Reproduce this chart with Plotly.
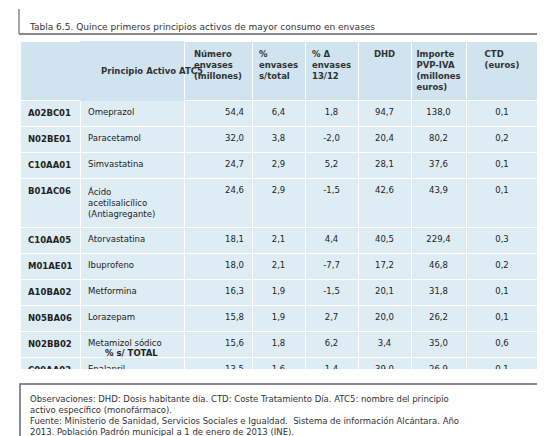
import plotly.graph_objects as go

codes = ["A02BC01","N02BE01","C10AA01","B01AC06","C10AA05","M01AE01","A10BA02","N05BA06",
         "N02BB02","C09AA02","N02AX52","N05BA12","C03CA01","N05CD06","J01CR02"]
names = ["Omeprazol","Paracetamol","Simvastatina","Ácido<br>acetilsalicílico<br>(Antiagregante)",
         "Atorvastatina","Ibuprofeno","Metformina","Lorazepam","Metamizol sódico","Enalapril",
         "Tramadol,<br>combinaciones","Alprazolam","Furosemida","Lormetazepam",
         "Amoxicilina e<br>inhibidores de la<br>beta-lactamasa"]
envases = ["54,4","32,0","24,7","24,6","18,1","18,0","16,3","15,8","15,6","13,5","12,0","11,6","9,0","8,9","8,5"]
pct_total = ["6,4","3,8","2,9","2,9","2,1","2,1","1,9","1,9","1,8","1,6","1,4","1,4","1,1","1,1","1,0"]
pct_var = ["1,8","-2,0","5,2","-1,5","4,4","-7,7","-1,5","2,7","6,2","1,4","11,3","2,4","4,0","5,2","-6,1"]
dhd = ["94,7","20,4","28,1","42,6","40,5","17,2","20,1","20,0","3,4","39,0","3,5","15,0","15,4","18,9","7,9"]
importe = ["138,0","80,2","37,6","43,9","229,4","46,8","31,8","26,2","35,0","26,9","44,8","32,1","20,0","19,7","59,4"]
ctd = ["0,1","0,2","0,1","0,1","0,3","0,2","0,1","0,1","0,6","0,1","0,8","0,1","0,1","0,1","0,4"]
total_pct = "33,4"

headers = ["", "", "Número<br>envases<br>(millones)", "%<br>envases<br>s/total", "% Δ<br>envases<br>13/12",
           "DHD", "Importe<br>PVP-IVA<br>(millones<br>euros)", "CTD<br>(euros)"]

def col(v, extra=""):
    return list(v) + [extra]

cols = [["<b>%s</b>" % c for c in codes] + [""], col(names), col(envases), col(pct_total, "<b>%s</b>" % total_pct),
        col(pct_var), col(dhd), col(importe), col(ctd)]

W, H = 545, 436
x0, x1 = 12/W, 530/W
widths = [60, 104, 68, 53, 53, 53, 55, 72]
fill = "#deedf4"
hfill = "#cfe4ee"
FONT = "DejaVu Sans"

fig = go.Figure(go.Table(
    domain=dict(x=[x0, x1], y=[0.17, 1-33/H]),
    columnwidth=widths,
    header=dict(values=["<b>%s</b>" % h if h else "" for h in headers],
                fill_color=hfill, line=dict(color=["white", hfill] + ["white"]*6, width=1),
                align=["center"]*8, font=dict(family=FONT, size=8.5, color="#333"), height=3),
    cells=dict(values=cols, fill_color=fill, line=dict(color="white", width=1),
               align=["left", "left", "right", "center", "center", "center", "center", "center"],
               font=dict(family=FONT, size=8.5, color="#222"), height=3),
))

fig.add_annotation(x=(12+170)/2/W, y=1-56/H, xref="paper", yref="paper", text="<b>Principio Activo ATC5</b>",
                   showarrow=False, font=dict(family=FONT, size=8.5, color="#333"))
fig.add_annotation(x=95/W, y=1-352/H, xref="paper", yref="paper", text="<b>% s/ TOTAL</b>",
                   showarrow=False, font=dict(family=FONT, size=8.5, color="#222"))

fig.add_shape(type="line", xref="paper", yref="paper", x0=11/W, x1=11/W, y0=1-1/H, y1=1-26/H, line=dict(color="#888", width=1.5))
fig.add_shape(type="line", xref="paper", yref="paper", x0=11/W, x1=531/W, y0=1-26/H, y1=1-26/H, line=dict(color="#888", width=2))
fig.add_annotation(x=19/W, y=1-12/H, xref="paper", yref="paper", xanchor="left", showarrow=False,
                   text="Tabla 6.5. Quince primeros principios activos de mayor consumo en envases",
                   font=dict(family=FONT, size=9, color="#333"))
fig.add_shape(type="rect", xref="paper", yref="paper", x0=12/W, x1=533/W, y0=1-435/H, y1=1-376/H,
              line=dict(color="#667", width=1.5))
fig.add_annotation(x=20/W, y=1-384/H, xref="paper", yref="paper", xanchor="left", yanchor="top", align="left",
                   showarrow=False,
                   text="Observaciones: DHD: Dosis habitante día. CTD: Coste Tratamiento Día. ATC5: nombre del principio<br>"
                        "activo específico (monofármaco).<br>"
                        "Fuente: Ministerio de Sanidad, Servicios Sociales e Igualdad.  Sistema de información Alcántara. Año<br>"
                        "2013. Población Padrón municipal a 1 de enero de 2013 (INE).",
                   font=dict(family=FONT, size=8.5, color="#333"))

fig.update_layout(width=W, height=H, margin=dict(l=0, r=0, t=0, b=0), paper_bgcolor="white")
fig.write_html("out.html")
